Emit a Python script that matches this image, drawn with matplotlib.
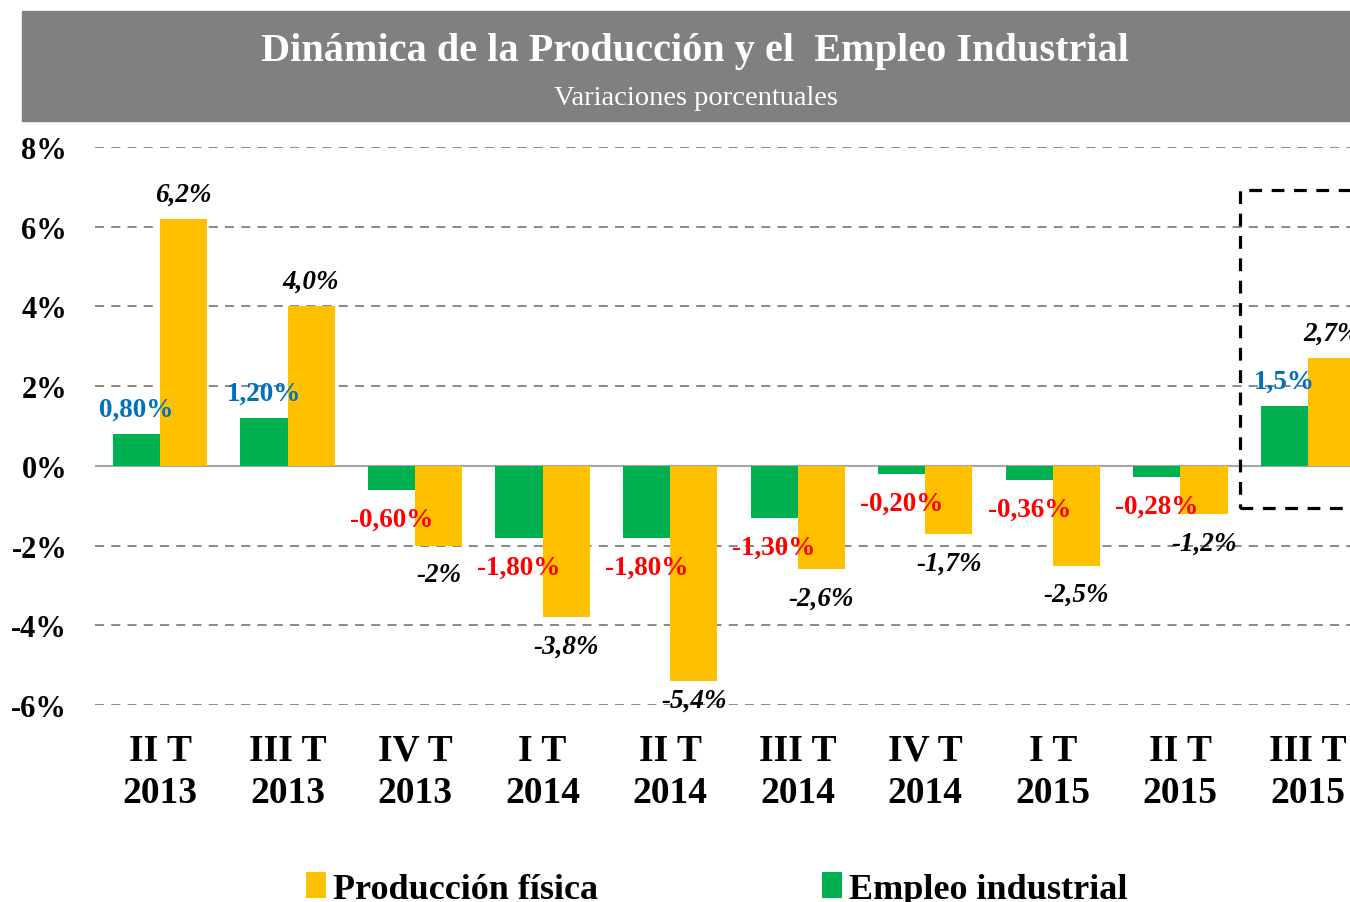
import matplotlib.pyplot as plt
import numpy as np
from matplotlib.patches import Rectangle

plt.rcParams['font.family'] = ['Liberation Serif', 'DejaVu Serif']

# datos
trimestres = ["II T\n2013", "III T\n2013", "IV T\n2013", "I T\n2014", "II T\n2014",
              "III T\n2014", "IV T\n2014", "I T\n2015", "II T\n2015", "III T\n2015"]
empleo = [0.80, 1.20, -0.60, -1.80, -1.80, -1.30, -0.20, -0.36, -0.28, 1.5]
produccion = [6.2, 4.0, -2.0, -3.8, -5.4, -2.6, -1.7, -2.5, -1.2, 2.7]
etiq_empleo = ["0,80%", "1,20%", "-0,60%", "-1,80%", "-1,80%", "-1,30%",
               "-0,20%", "-0,36%", "-0,28%", "1,5%"]
etiq_prod = ["6,2%", "4,0%", "-2%", "-3,8%", "-5,4%", "-2,6%", "-1,7%",
             "-2,5%", "-1,2%", "2,7%"]
yticks = [-6, -4, -2, 0, 2, 4, 6, 8]

verde = "#00B050"
amarillo = "#FFC000"

fig = plt.figure(figsize=(13.5, 9.03), dpi=100)

# banda del titulo
fig.patches.append(Rectangle((22/1350, 1-122/903), 1-22/1350, 110/903,
                             transform=fig.transFigure, color="#808080", zorder=0))
fig.text(0.5148, 1-51/903, "Dinámica de la Producción y el  Empleo Industrial",
         ha="center", va="center", color="white", fontsize=29, fontweight="bold")
fig.text(0.5155, 1-99/903, "Variaciones porcentuales", ha="center", va="center",
         color="white", fontsize=20.5)

ax = fig.add_axes([95/1350, 1-706/903, 1-95/1350, (706-148)/903])
x = np.arange(len(trimestres))
w = 0.37
b_emp = ax.bar(x - w/2, empleo, w, color=verde, label="Empleo industrial", zorder=3)
b_prod = ax.bar(x + w/2, produccion, w, color=amarillo, label="Producción física", zorder=3)

# etiquetas de datos
for i in range(len(x)):
    off = 18 if empleo[i] > 0 else -21
    ax.annotate(etiq_empleo[i], (x[i] - w/2, empleo[i]), xytext=(0, off),
                textcoords="offset points", ha="center", va="center",
                fontsize=19.5, fontweight="bold",
                color="#0070C0" if empleo[i] > 0 else "#FF0000", zorder=4)
    off = 18 if produccion[i] > 0 else -21
    if i == 4:
        off = -14
    ax.annotate(etiq_prod[i], (x[i] + w/2, produccion[i]), xytext=(0, off),
                textcoords="offset points", ha="center", va="center",
                fontsize=19.5, fontweight="bold", fontstyle="italic",
                color="black", zorder=4)

ax.set_xlim(-0.51, 9.33)
ax.set_ylim(-6, 8)
ax.set_yticks(yticks)
ax.set_yticklabels([f"{v}%" for v in yticks], fontsize=22, fontweight="bold")
ax.set_xticks(x)
ax.set_xticklabels(trimestres, fontsize=27, fontweight="bold", linespacing=1.25)
ax.tick_params(length=0)
ax.tick_params(axis="y", pad=20)
ax.tick_params(axis="x", pad=20)
for s in ax.spines.values():
    s.set_visible(False)
ax.yaxis.grid(True, linestyle=(0, (5, 4)), color="#808080", linewidth=1.3, zorder=0)
ax.axhline(0, color="#A6A6A6", linewidth=1.5, zorder=2)

# recuadro punteado
ax.add_patch(Rectangle((8.47, -1.05), 2.0, 7.97, fill=False, edgecolor="black",
                       linewidth=2.3, linestyle=(0, (4, 3)), zorder=5, clip_on=False))

fig.legend(handles=[b_prod, b_emp], ncol=2, loc="center",
           bbox_to_anchor=(0.531, 1-890/903), frameon=False,
           prop={"weight": "bold", "size": 26}, handlelength=0.55, handleheight=0.7,
           handletextpad=0.2, columnspacing=6.2)

fig.savefig("out.png", dpi=100)
